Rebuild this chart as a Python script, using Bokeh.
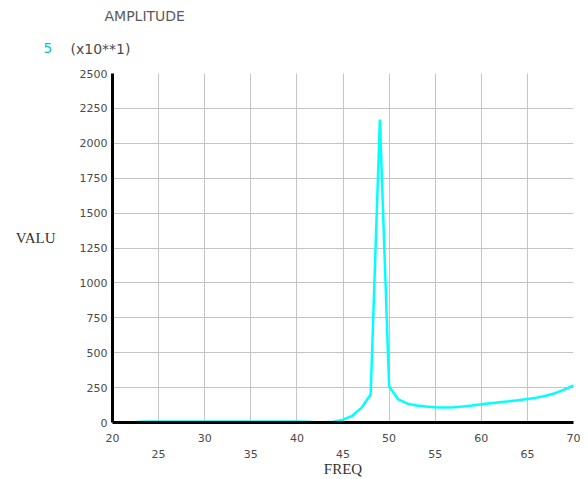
from bokeh.plotting import figure
from bokeh.models import FixedTicker, Range1d, LinearAxis, Title
from bokeh.embed import file_html
from bokeh.resources import INLINE

# data (values shown in units of x10**1)
freq = [20, 21, 22, 23, 24, 25, 26, 27, 28, 29, 30, 31, 32, 33, 34, 35, 36, 37, 38, 39,
        40, 41, 42, 43, 44, 45, 46, 47, 48, 49, 50, 51, 52, 53, 54, 55, 56, 57, 58, 59,
        60, 61, 62, 63, 64, 65, 66, 67, 68, 69, 70]
valu = [0, 0, 0, 6, 7, 7, 7, 7, 7, 7, 7, 7, 7, 7, 7, 7, 7, 7, 7, 7,
        7, 5, 1, 1, 6, 20, 48, 105, 200, 2170, 258, 165, 135, 122, 115, 110, 108, 110, 115, 122,
        130, 138, 145, 152, 160, 168, 178, 192, 210, 235, 265]

x_ticks_row1 = [20, 30, 40, 50, 60, 70]
x_ticks_row2 = [25, 35, 45, 55, 65]
y_ticks = [0, 250, 500, 750, 1000, 1250, 1500, 1750, 2000, 2250, 2500]

TXT = "#4a4a4a"
FONT = "DejaVu Sans"

p = figure(frame_width=461, frame_height=349, output_backend="svg", toolbar_location=None,
           x_range=Range1d(20, 70), y_range=Range1d(0, 2500),
           min_border_left=112, min_border_right=15, min_border_top=73, min_border_bottom=10)
p.background_fill_color = "white"
p.border_fill_color = "white"
p.outline_line_color = None

p.line(freq, valu, line_color="#00ffff", line_width=2.5)

p.xaxis.ticker = FixedTicker(ticks=x_ticks_row1)
p.yaxis.ticker = FixedTicker(ticks=y_ticks)
p.xgrid.ticker = FixedTicker(ticks=x_ticks_row1 + x_ticks_row2)
p.ygrid.ticker = FixedTicker(ticks=y_ticks)
for g in (p.xgrid, p.ygrid):
    g.grid_line_color = "#c4c4c4"
    g.grid_line_width = 1

xaxis2 = LinearAxis(ticker=FixedTicker(ticks=x_ticks_row2), axis_line_color=None)
p.add_layout(xaxis2, "below")

for ax in (p.xaxis[0], xaxis2, p.yaxis[0]):
    ax.major_tick_line_color = None
    ax.minor_tick_line_color = None
    ax.major_tick_out = 0
    ax.major_tick_in = 0
    ax.major_label_text_font = FONT
    ax.major_label_text_font_size = "11px"
    ax.major_label_text_color = TXT
for ax in (p.xaxis[0], p.yaxis[0]):
    ax.axis_line_color = "black"
    ax.axis_line_width = 3

p.xaxis[0].major_label_text_align = "left"
p.xaxis[0].major_label_standoff = 11
xaxis2.major_label_text_align = "left"
xaxis2.major_label_standoff = 5
xaxis2.axis_label = "FREQ"
xaxis2.axis_label_standoff = 0
xaxis2.axis_label_text_font = "Liberation Serif"
xaxis2.axis_label_text_font_style = "normal"
xaxis2.axis_label_text_font_size = "15px"
xaxis2.axis_label_text_color = "#333333"

p.yaxis.major_label_standoff = 5
p.yaxis.axis_label = "VALU\n"
p.yaxis.axis_label_orientation = "horizontal"
p.yaxis.axis_label_standoff = 21
p.yaxis.axis_label_text_font = "Liberation Serif"
p.yaxis.axis_label_text_font_style = "normal"
p.yaxis.axis_label_text_font_size = "15px"
p.yaxis.axis_label_text_color = "#333333"

p.add_layout(Title(text="(x10**1)", align="left", offset=-42, standoff=33, text_font=FONT,
                   text_font_size="14px", text_font_style="normal", text_color=TXT), "above")
p.add_layout(Title(text="AMPLITUDE", align="left", offset=-8, standoff=-3, text_font=FONT,
                   text_font_size="14px", text_font_style="normal", text_color="#5a5a5a"), "above")
p.add_layout(Title(text="5", align="left", offset=-69, standoff=-90, text_font=FONT,
                   text_font_size="14px", text_font_style="normal", text_color="#10c4c4"), "above")

open("out.html", "w").write(file_html(p, INLINE))
